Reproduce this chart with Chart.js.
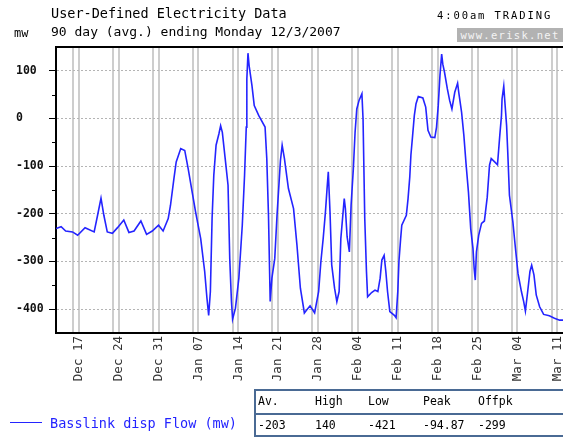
<!DOCTYPE html>
<html>
<head>
<meta charset="utf-8">
<script src="https://cdn.jsdelivr.net/npm/chart.js@4.4.0/dist/chart.umd.min.js"></script>
<style>
  body { margin: 0; background: #fff; width: 563px; height: 439px; overflow: hidden; position: relative; font-family: 'DejaVu Sans Mono', monospace; }
  #chart { position: absolute; left: 0; top: 0; }
  .txt { position: absolute; white-space: pre; line-height: 16px; }
  #stats { position: absolute; left: 254px; top: 389px; width: 309px; height: 48px; border: 2px solid #4a6a94; border-right: none; box-sizing: border-box; font-size: 11.5px; }
  #stats div { position: absolute; white-space: pre; }
  #stats .sep { left: 0; right: 0; top: 22px; height: 0; border-top: 2px solid #4a6a94; }
</style>
</head>
<body>
<canvas id="chart" width="563" height="439"></canvas>
<div class="txt" style="left:51px;top:5px;font-size:13.5px;">User-Defined Electricity Data</div>
<div class="txt" style="left:51px;top:24px;font-size:13px;">90 day (avg.) ending Monday 12/3/2007</div>
<div class="txt" style="left:14px;top:25px;font-size:12px;">mw</div>
<div class="txt" style="left:437px;top:7px;font-size:10.5px;letter-spacing:1.9px;">4:00am TRADING</div>
<div class="txt" style="left:457px;top:28px;width:106px;height:14px;line-height:14px;background:#b2b2b2;color:#f4f4f4;font-size:10.5px;letter-spacing:1.3px;text-align:center;">www.erisk.net</div>
<div style="position:absolute;left:10px;top:422px;width:32px;height:0;border-top:1.5px solid #2424ff;"></div>
<div class="txt" style="left:50px;top:415px;font-size:13.5px;color:#2424ff;">Basslink disp Flow (mw)</div>
<div id="stats"></div>
<script>
// days since Wed 13 Dec 2006 (data ends Mon 12 Mar 2007)
const days = [
  0, 0.9, 1.7, 2.9, 3.8, 5.1, 6.7, 7.3, 7.9, 8.4, 9.0, 9.9, 10.8, 11.9, 12.8, 13.7, 14.9, 15.9, 16.9, 18.0,
  18.8, 19.7, 20.1, 20.7, 21.1, 21.9, 22.6, 23.2, 23.8, 24.5, 25.4, 26.1, 26.5, 26.8, 27.1, 27.4, 27.7, 28.1, 28.6, 28.9,
  29.2, 29.7, 30.2, 30.5, 30.8, 31.0, 31.5, 32.1, 32.7, 33.1, 33.4, 33.5, 33.7, 33.9, 34.4, 34.8, 35.6, 36.7, 37.0, 37.3,
  37.6, 37.9, 38.4, 38.8, 39.4, 39.7, 40.1, 40.8, 41.7, 42.3, 42.9, 43.6, 44.0, 44.6, 45.4, 46.1, 46.5, 46.9, 47.3, 47.6,
  47.8, 48.1, 48.4, 48.9, 49.3, 49.7, 50.0, 50.4, 50.6, 50.8, 51.1, 51.5, 51.8, 52.2, 52.5, 52.8, 53.2, 53.7, 53.9, 54.2,
  54.5, 54.7, 55.4, 56.0, 56.5, 56.9, 57.2, 57.6, 57.9, 58.2, 58.6, 59.4, 59.7, 60.0, 60.2, 60.5, 60.7, 61.5, 61.8, 62.1,
  62.3, 62.6, 62.9, 63.2, 63.6, 64.4, 64.9, 65.3, 65.8, 66.5, 66.8, 67.1, 67.4, 67.7, 67.9, 68.2, 68.7, 69.1, 69.5, 70.0,
  70.5, 70.7, 71.2, 71.6, 72.0, 72.4, 72.8, 73.2, 73.4, 73.6, 73.8, 74.2, 74.7, 75.2, 75.7, 76.1, 76.4, 77.0, 77.5, 77.9,
  78.2, 78.3, 78.6, 78.8, 79.1, 79.3, 79.6, 80.2, 80.6, 81.1, 81.7, 82.1, 82.4, 82.8, 83.2, 83.5, 83.9, 84.3, 84.9, 85.6,
  86.6, 87.5, 88.4, 89.0
];
const flow = [
  -231, -227, -236, -238, -245, -229, -238, -203, -167, -203, -238, -241, -229, -213, -239, -236, -215, -243, -236, -224,
  -236, -210, -182, -126, -91, -63, -67, -105, -147, -196, -252, -321, -377, -413, -363, -210, -119, -56, -32, -15,
  -29, -84, -140, -294, -384, -421, -398, -335, -224, -119, -18, 83, 137, 111, 69, 27, 6, -18, -84, -203,
  -384, -335, -294, -203, -88, -56, -84, -147, -189, -266, -356, -408, -402, -393, -408, -363, -300, -252, -196, -144,
  -112, -196, -307, -356, -384, -363, -252, -196, -168, -189, -248, -280, -182, -105, -29, 20, 38, 52, -1, -210,
  -321, -374, -365, -360, -363, -335, -297, -287, -321, -363, -405, -413, -418, -363, -300, -252, -224, -203, -168, -123,
  -77, -36, 6, 31, 46, 43, 24, -25, -39, -40, -18, 27, 90, 135, 114, 97, 62, 38, 20, 55,
  74, 55, 13, -36, -98, -154, -231, -273, -314, -339, -280, -245, -220, -215, -165, -98, -84, -91, -97, -36,
  6, 41, 68, 34, -15, -70, -161, -217, -266, -325, -363, -384, -404, -363, -321, -308, -328, -370, -395, -411,
  -414, -419, -423, -423
];

// Sundays (labelled) - the Saturday before each gets a grid line too
const tickDays = [4, 11, 18, 25, 32, 39, 46, 53, 60, 67, 74, 81, 88];
const tickLabels = ['Dec 17', 'Dec 24', 'Dec 31', 'Jan 07', 'Jan 14', 'Jan 21', 'Jan 28',
  'Feb 04', 'Feb 11', 'Feb 18', 'Feb 25', 'Mar 04', 'Mar 11'];
const yTicks = [-400, -300, -200, -100, 0, 100];
const yMinorTicks = [-350, -250, -150, -50, 50];

const statHeads = ['Av.', 'High', 'Low', 'Peak', 'Offpk'];
const statValues = ['-203', '140', '-421', '-94.87', '-299'];

// stats box
const stats = document.getElementById('stats');
const colX = [2, 59, 112, 167, 222];
stats.innerHTML = statHeads.map((h, i) => `<div style="left:${colX[i]}px;top:3px">${h}</div>`).join('') +
  '<div class="sep"></div>' +
  statValues.map((v, i) => `<div style="left:${colX[i]}px;top:27px">${v}</div>`).join('');

const framePlugin = {
  id: 'frame',
  afterDraw(chart) {
    const { ctx, chartArea: a, scales: { y } } = chart;
    ctx.save();
    ctx.strokeStyle = '#000';
    ctx.lineWidth = 2;
    ctx.beginPath();
    ctx.moveTo(a.left - 1, a.top);
    ctx.lineTo(a.right, a.top);
    ctx.stroke();
    ctx.lineWidth = 1;
    ctx.beginPath();
    yMinorTicks.forEach(v => {
      const py = Math.round(y.getPixelForValue(v)) + 0.5;
      ctx.moveTo(a.left - 4, py);
      ctx.lineTo(a.left, py);
    });
    ctx.stroke();
    ctx.restore();
  }
};

Chart.defaults.font.family = "'DejaVu Sans Mono', monospace";

new Chart(document.getElementById('chart'), {
  type: 'line',
  data: {
    datasets: [{
      label: 'Basslink disp Flow (mw)',
      data: days.map((d, i) => ({ x: d, y: flow[i] })),
      borderColor: '#2424ff',
      borderWidth: 1.6,
      pointRadius: 0,
      tension: 0,
      fill: false
    }]
  },
  options: {
    responsive: false,
    animation: false,
    events: [],
    layout: { padding: { left: 16, top: 47, right: 0, bottom: 0 } },
    plugins: { legend: { display: false }, tooltip: { enabled: false } },
    scales: {
      x: {
        type: 'linear',
        min: 0,
        max: 89,
        afterBuildTicks(scale) {
          const t = [];
          tickDays.forEach(d => { t.push({ value: d - 1 }); t.push({ value: d }); });
          scale.ticks = t;
        },
        afterFit(scale) {
          scale.height = 106;
          scale.paddingLeft = 0;
          scale.paddingRight = 0;
        },
        ticks: {
          autoSkip: false,
          minRotation: 90,
          maxRotation: 90,
          padding: 3,
          color: '#333',
          font: { size: 12.5 },
          callback(value) {
            const i = tickDays.indexOf(value);
            return i >= 0 ? tickLabels[i] : '';
          }
        },
        grid: { color: '#cdcdcd', lineWidth: 2, drawTicks: false },
        border: { color: '#000', width: 2 }
      },
      y: {
        min: -450,
        max: 150,
        afterBuildTicks(scale) {
          scale.ticks = yTicks.map(v => ({ value: v }));
        },
        afterFit(scale) {
          scale.width = 40;
          scale.paddingTop = 0;
          scale.paddingBottom = 0;
        },
        ticks: {
          crossAlign: 'far',
          padding: 2,
          color: '#111',
          font: { size: 11.5, weight: 'bold' }
        },
        grid: { color: '#b4b4b4', lineWidth: 1, tickLength: 7, tickColor: '#000', tickBorderDash: [] },
        border: { color: '#000', width: 2, dash: [2, 2] }
      }
    }
  },
  plugins: [framePlugin]
});
</script>
</body>
</html>
